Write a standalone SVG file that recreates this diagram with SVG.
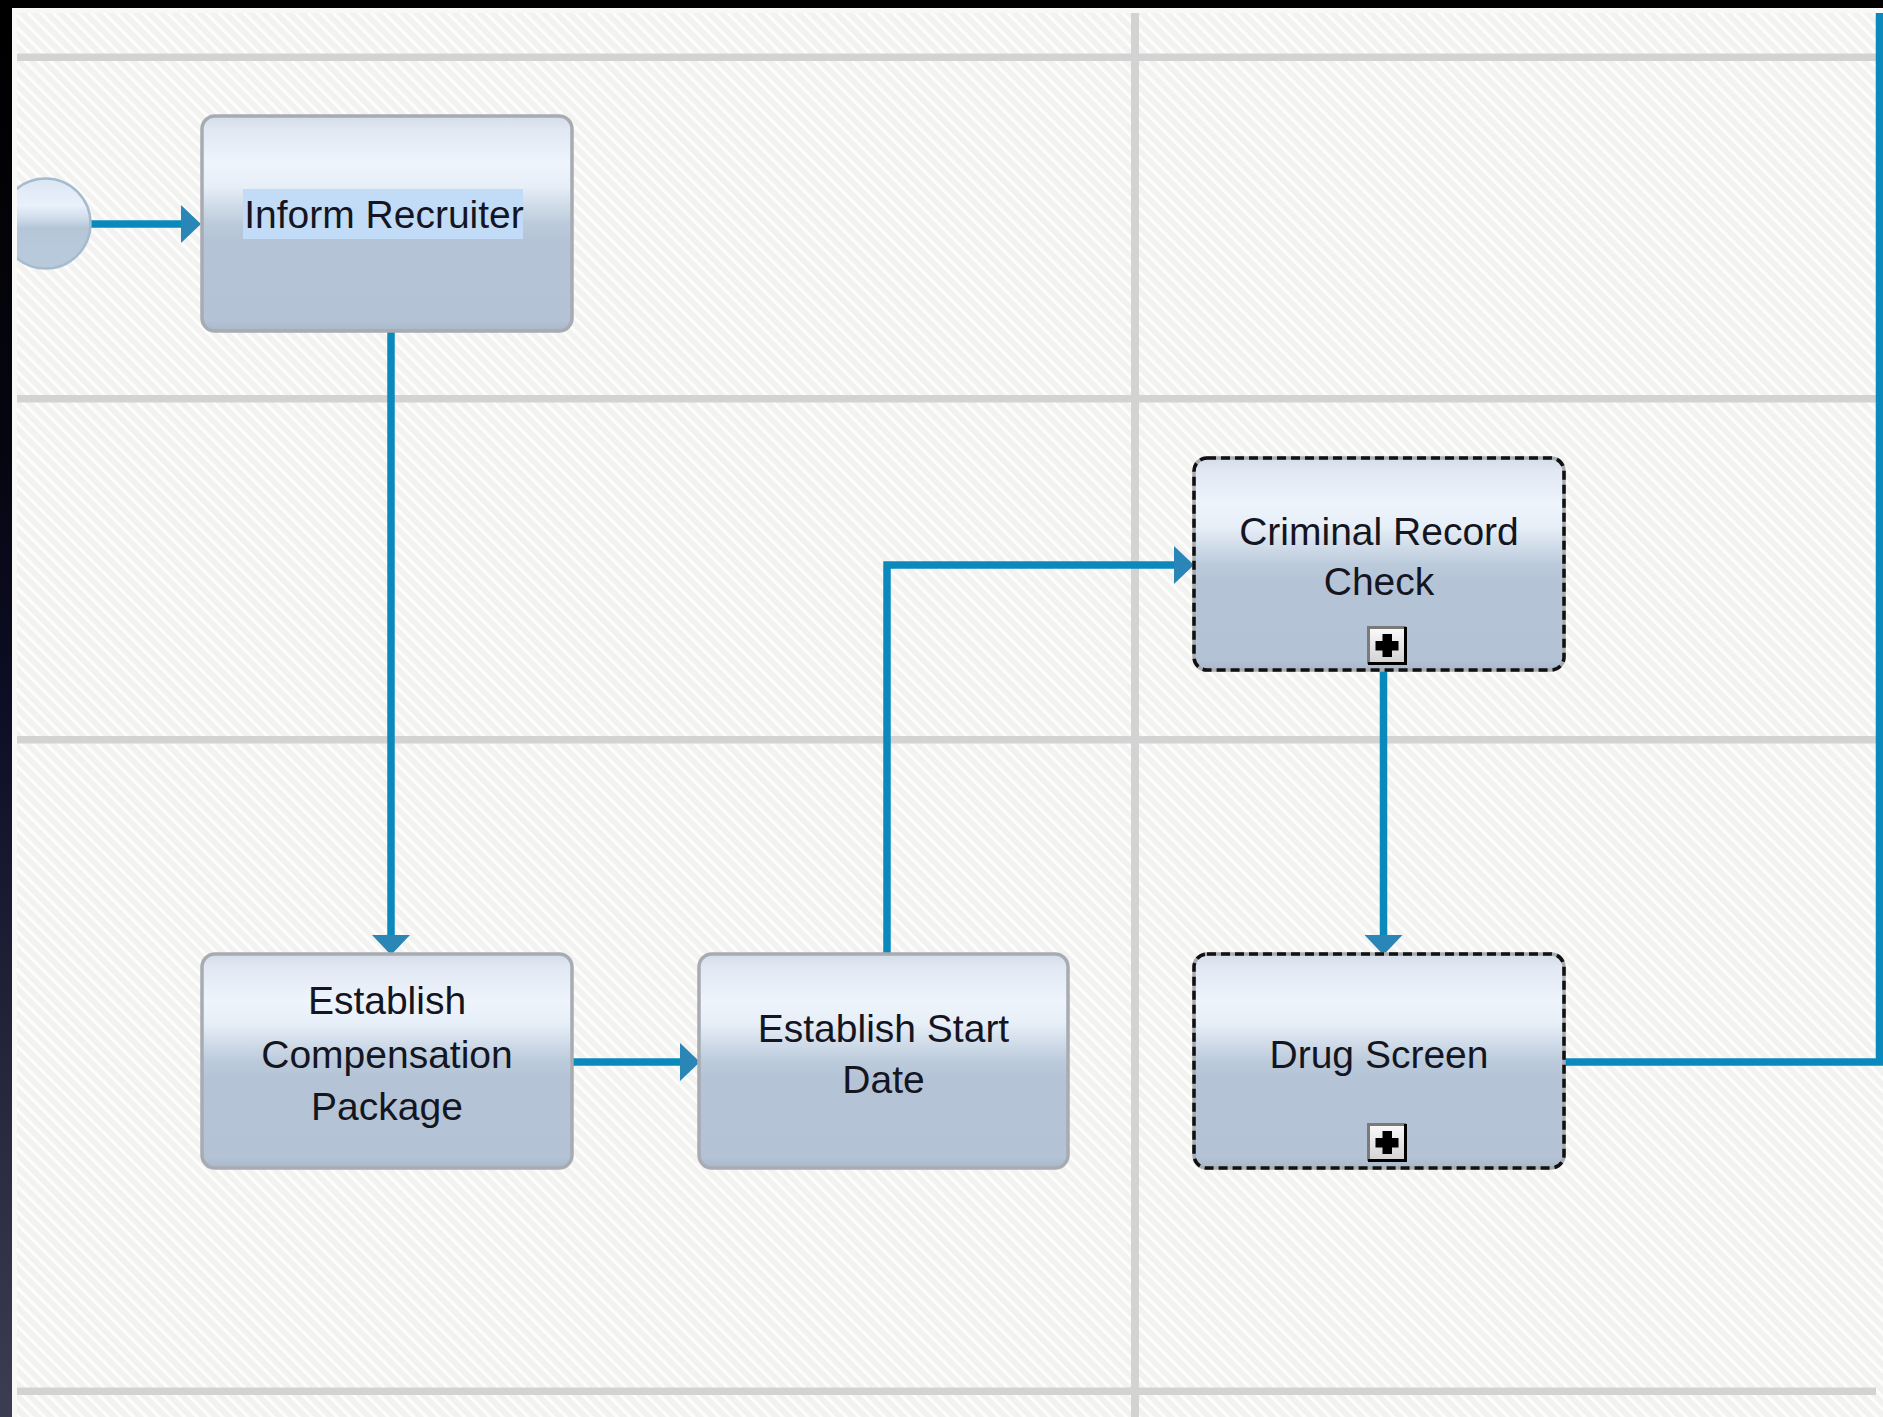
<svg xmlns="http://www.w3.org/2000/svg" width="1883" height="1417" viewBox="0 0 1883 1417">
  <style>
    .lane { fill: #d3d3d3; }
    .task { fill: url(#taskGrad); stroke: #a8abb2; stroke-width: 3.5; }
    .dash { fill: none; stroke: #111111; stroke-width: 3.5; stroke-dasharray: 9 5; }
    .label { font-family: "Liberation Sans", Arial, sans-serif; font-size: 39px; fill: #15151f; text-anchor: middle; }
    .flow { fill: none; stroke: #0a89bd; stroke-width: 7.5; marker-end: url(#arrow); }
    .flow-plain { fill: none; stroke: #0a89bd; stroke-width: 7.5; }
    .plus-bg { fill: url(#plusGrad); }
    .plus-light { stroke: #7a7a7a; stroke-width: 3; fill: none; }
    .plus-dark { stroke: #000000; stroke-width: 3; fill: none; }
    .plus-sign { fill: #000000; }
  </style>
  <defs>
    <pattern id="hatch" patternUnits="userSpaceOnUse" width="9" height="9" patternTransform="rotate(-45)">
      <rect width="9" height="9" fill="#f2f3f0"/>
      <rect width="3.2" height="9" fill="#fdfdfb"/>
    </pattern>
    <linearGradient id="leftGrad" x1="0" y1="0" x2="0" y2="1">
      <stop offset="0" stop-color="#000000"/>
      <stop offset="0.3" stop-color="#05050f"/>
      <stop offset="0.5" stop-color="#0d0d25"/>
      <stop offset="1" stop-color="#3c3c52"/>
    </linearGradient>
    <linearGradient id="taskGrad" x1="0" y1="0" x2="0" y2="1">
      <stop offset="0" stop-color="#d3dce8"/>
      <stop offset="0.06" stop-color="#e1e8f3"/>
      <stop offset="0.22" stop-color="#eef4fc"/>
      <stop offset="0.33" stop-color="#e6eef7"/>
      <stop offset="0.42" stop-color="#cfdbe8"/>
      <stop offset="0.5" stop-color="#bccbdc"/>
      <stop offset="0.58" stop-color="#b4c4d6"/>
      <stop offset="0.95" stop-color="#b3c3d5"/>
      <stop offset="1" stop-color="#a9b8c9"/>
    </linearGradient>
    <linearGradient id="circGrad" x1="0" y1="0" x2="0" y2="1">
      <stop offset="0" stop-color="#dbe6f3"/>
      <stop offset="0.3" stop-color="#e9f1fb"/>
      <stop offset="0.45" stop-color="#cddbe9"/>
      <stop offset="0.55" stop-color="#b4c6d8"/>
      <stop offset="1" stop-color="#b9cbdb"/>
    </linearGradient>
    <linearGradient id="plusGrad" x1="0" y1="0" x2="0" y2="1">
      <stop offset="0" stop-color="#fbfbfb"/>
      <stop offset="1" stop-color="#d2d2d2"/>
    </linearGradient>
    <marker id="arrow" markerUnits="userSpaceOnUse" viewBox="0 0 20 38" refX="0" refY="19" markerWidth="20" markerHeight="38" orient="auto">
      <path d="M0,0 L20,19 L0,38 Z" fill="#2a86b6"/>
    </marker>
    <clipPath id="contentClip">
      <rect x="17" y="13" width="1866" height="1404"/>
    </clipPath>
  </defs>

  <!-- frame and background -->
  <g id="background">
    <rect x="0" y="0" width="1883" height="1417" fill="#f8f8f6"/>
    <rect x="17" y="13" width="1866" height="1404" fill="url(#hatch)"/>
    <rect x="0" y="0" width="1883" height="8" fill="#000000"/>
    <rect x="0" y="0" width="12" height="1417" fill="url(#leftGrad)"/>
  </g>

  <!-- swimlane dividers -->
  <g id="lanes">
    <rect class="lane" x="17" y="53.5" width="1859" height="7.5"/>
    <rect class="lane" x="17" y="395" width="1859" height="7.5"/>
    <rect class="lane" x="17" y="736" width="1859" height="7.5"/>
    <rect class="lane" x="17" y="1387.5" width="1859" height="7.5"/>
    <rect class="lane" x="1131" y="13" width="8" height="1404"/>
  </g>

  <!-- connectors -->
  <g id="connectors">
    <path id="c-start-inform" class="flow" d="M88,224 L181,224"/>
    <path id="c-inform-comp" class="flow" d="M391,331 L391,935"/>
    <path id="c-comp-start" class="flow" d="M572,1062 L680,1062"/>
    <path id="c-start-criminal" class="flow" d="M887,954 L887,565 L1174,565"/>
    <path id="c-criminal-drug" class="flow" d="M1383.5,670 L1383.5,935"/>
    <path id="c-drug-out" class="flow-plain" d="M1565,1062 L1879.5,1062 L1879.5,13"/>
  </g>

  <!-- start event -->
  <g id="start-event" clip-path="url(#contentClip)">
    <circle cx="45.5" cy="223.5" r="45" fill="url(#circGrad)" stroke="#a6bbcf" stroke-width="2.5"/>
  </g>

  <!-- Inform Recruiter -->
  <g id="inform-recruiter">
    <rect class="task" x="202" y="116" width="370" height="215" rx="13" ry="13"/>
    <rect x="243" y="189" width="280" height="50" fill="#c2dcf8"/>
    <text class="label" x="384" y="228">Inform Recruiter</text>
  </g>

  <!-- Establish Compensation Package -->
  <g id="establish-compensation">
    <rect class="task" x="202" y="954" width="370" height="214" rx="13" ry="13"/>
    <text class="label" x="387" y="1014">Establish</text>
    <text class="label" x="387" y="1068">Compensation</text>
    <text class="label" x="387" y="1120">Package</text>
  </g>

  <!-- Establish Start Date -->
  <g id="establish-start-date">
    <rect class="task" x="699" y="954" width="369" height="214" rx="13" ry="13"/>
    <text class="label" x="883.5" y="1042">Establish Start</text>
    <text class="label" x="883.5" y="1093">Date</text>
  </g>

  <!-- Criminal Record Check (collapsed sub-process) -->
  <g id="criminal-record-check">
    <rect class="task" x="1194" y="458" width="370" height="212" rx="13" ry="13"/>
    <rect class="dash" x="1194" y="458" width="370" height="212" rx="13" ry="13"/>
    <text class="label" x="1379" y="545">Criminal Record</text>
    <text class="label" x="1379" y="595">Check</text>
    <g id="criminal-expand">
      <rect class="plus-bg" x="1368" y="627" width="38" height="37"/>
      <path class="plus-light" d="M1368.5,664 L1368.5,627.5 L1406,627.5"/>
      <path class="plus-dark" d="M1405.5,627 L1405.5,663.5 L1368,663.5"/>
      <rect class="plus-sign" x="1375.5" y="641" width="23" height="9.5"/>
      <rect class="plus-sign" x="1382.5" y="634" width="9.5" height="23"/>
    </g>
  </g>

  <!-- Drug Screen (collapsed sub-process) -->
  <g id="drug-screen">
    <rect class="task" x="1194" y="954" width="370" height="214" rx="13" ry="13"/>
    <rect class="dash" x="1194" y="954" width="370" height="214" rx="13" ry="13"/>
    <text class="label" x="1379" y="1068">Drug Screen</text>
    <g id="drug-expand">
      <rect class="plus-bg" x="1368" y="1124" width="38" height="37"/>
      <path class="plus-light" d="M1368.5,1161 L1368.5,1124.5 L1406,1124.5"/>
      <path class="plus-dark" d="M1405.5,1124 L1405.5,1160.5 L1368,1160.5"/>
      <rect class="plus-sign" x="1375.5" y="1138" width="23" height="9.5"/>
      <rect class="plus-sign" x="1382.5" y="1131" width="9.5" height="23"/>
    </g>
  </g>
</svg>
